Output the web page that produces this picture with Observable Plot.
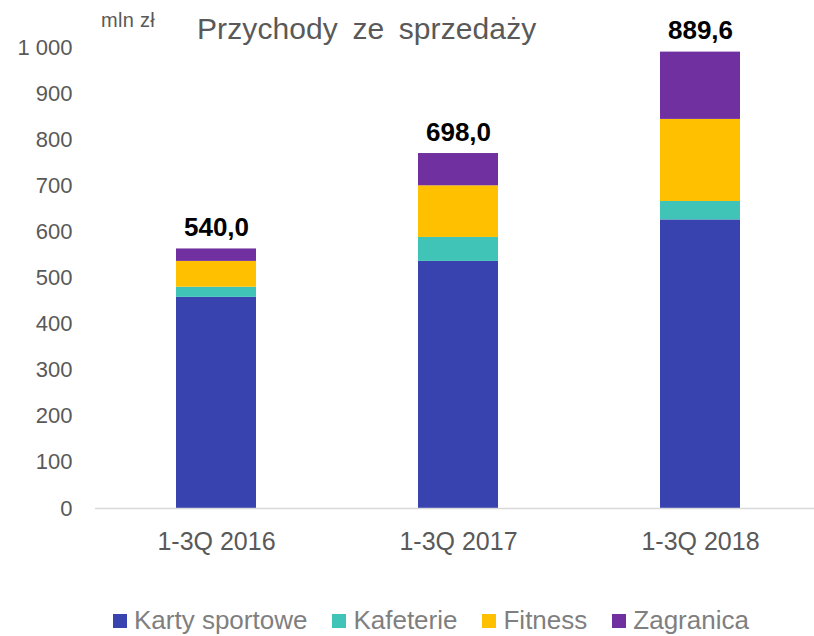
<!DOCTYPE html>
<html>
<head>
<meta charset="utf-8">
<script src="https://cdn.jsdelivr.net/npm/d3@7"></script>
<script src="https://cdn.jsdelivr.net/npm/@observablehq/plot@0.6"></script>
<style>
  html, body { margin: 0; padding: 0; background: #fff; }
  #wrap { position: relative; width: 814px; height: 636px; font-family: "Liberation Sans", Arial, sans-serif; }
  #title { position: absolute; left: 197px; top: 12px; font-size: 30px; color: #595959; letter-spacing: 0.1px; word-spacing: 6px; white-space: nowrap; }
  #unit { position: absolute; left: 101px; top: 9px; font-size: 20px; color: #595959; letter-spacing: 0.3px; white-space: nowrap; }
  #legend { position: absolute; left: 113px; top: 605px; display: flex; align-items: center; font-size: 26px; color: #7f7f7f; white-space: nowrap; }
  .item { display: flex; align-items: center; margin-right: 25px; }
  .sw { width: 14px; height: 14px; margin-right: 7px; }
</style>
</head>
<body>
<div id="wrap">
  <div id="chart"></div>
  <div id="unit"></div>
  <div id="title"></div>
  <div id="legend"></div>
</div>
<script>
const titleText = "Przychody ze sprzedaży";
const unitText = "mln zł";
const periods = ["1-3Q 2016", "1-3Q 2017", "1-3Q 2018"];
const seriesNames = ["Karty sportowe", "Kafeterie", "Fitness", "Zagranica"];
const seriesColors = ["#3843AF", "#40C4B7", "#FFC000", "#7030A0"];
const kartySportowe = [458, 536, 626];
const kafeterie = [22, 52, 40];
const fitness = [56, 112, 178];
const zagranica = [27, 70, 146];
const totalLabels = [540.0, 698.0, 889.6];
const yTicks = [0, 100, 200, 300, 400, 500, 600, 700, 800, 900, 1000];

const seriesValues = [kartySportowe, kafeterie, fitness, zagranica];
const rows = [];
seriesNames.forEach((s, i) => {
  periods.forEach((p, j) => rows.push({period: p, series: s, value: seriesValues[i][j]}));
});
const tops = periods.map((p, j) => ({
  period: p,
  top: d3.sum(seriesValues, arr => arr[j]),
  label: totalLabels[j].toFixed(1).replace(".", ",")
}));

const fmt = d => d3.format(",")(d).replace(/,/g, " ");

const chart = Plot.plot({
  width: 814,
  height: 590,
  marginTop: 47,
  marginBottom: 82,
  marginLeft: 95,
  marginRight: 0,
  style: { fontFamily: "'Liberation Sans', Arial, sans-serif", color: "#595959", background: "#fff" },
  x: { domain: periods, paddingInner: 0.669, paddingOuter: 0.32, align: 0.523, label: null },
  y: { domain: [0, 1000], label: null },
  color: { domain: seriesNames, range: seriesColors },
  marks: [
    Plot.axisY({ ticks: yTicks, tickFormat: fmt, tickSize: 0, tickPadding: 23, fontSize: 22, label: null }),
    Plot.axisX({ tickSize: 0, tickPadding: 24, fontSize: 25, label: null }),
    Plot.barY(rows, { x: "period", y: "value", fill: "series", order: seriesNames }),
    Plot.ruleY([0], { stroke: "#d9d9d9", strokeWidth: 1.5 }),
    Plot.text(tops, { x: "period", y: "top", text: "label", lineAnchor: "bottom", dy: -13, fontSize: 26, fontWeight: "bold", fill: "#000" })
  ]
});
document.getElementById("chart").appendChild(chart);
document.getElementById("title").textContent = titleText;
document.getElementById("unit").textContent = unitText;
const legend = document.getElementById("legend");
seriesNames.forEach((s, i) => {
  const item = document.createElement("div");
  item.className = "item";
  const sw = document.createElement("div");
  sw.className = "sw";
  sw.style.background = seriesColors[i];
  const t = document.createElement("span");
  t.textContent = s;
  item.appendChild(sw);
  item.appendChild(t);
  legend.appendChild(item);
});
</script>
</body>
</html>
